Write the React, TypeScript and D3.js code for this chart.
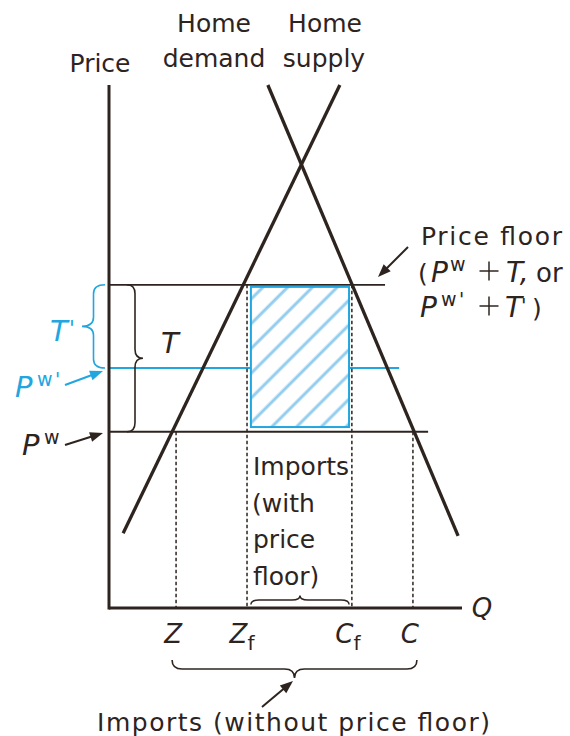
import React from "react";
import * as d3 from "d3";

const W = 570;
const H = 736;

// Quantities on the horizontal axis (data units 0..100)
const quantityNames = ["Z", "Zf", "Cf", "C"];
const quantityValues = [19, 39.1, 68.8, 86.1];
// Price levels (data units 0..100)
const priceNames = ["Pw", "PwPrime", "floor"];
const priceValues = [33.7, 45.9, 61.8];
const priceLineEnds = [90.4, 82.2, 78.2];
// Home supply & demand endpoints [q, p]
const supplyPoints: [number, number][] = [[4, 14.3], [65.4, 100]];
const demandPoints: [number, number][] = [[45, 100], [98.9, 13.8]];
// Imports rectangle (hatched)
const rectQ = [40.2, 68.0];
const rectP = [34.6, 61.4];

const DARK = "#2e241f";
const BLUE = "#22a6df";
const HATCH = "#92cdee";
const FONT = "'DejaVu Sans', sans-serif";

function bracePath(L: number, s: number, r = 8) {
  const m = L / 2;
  return `M0,0 Q0,${-s} ${r},${-s} L${m - r},${-s} Q${m},${-s} ${m},${-2 * s} Q${m},${-s} ${m + r},${-s} L${L - r},${-s} Q${L},${-s} ${L},0`;
}

function Arrow({ x1, y1, x2, y2, color }: { x1: number; y1: number; x2: number; y2: number; color: string }) {
  const a = Math.atan2(y2 - y1, x2 - x1);
  const len = 13, w = 5;
  const bx = x2 - len * Math.cos(a), by = y2 - len * Math.sin(a);
  const px = -Math.sin(a) * w, py = Math.cos(a) * w;
  return (
    <g>
      <line x1={x1} y1={y1} x2={bx + 2 * Math.cos(a)} y2={by + 2 * Math.sin(a)} stroke={color} strokeWidth={2} />
      <polygon points={`${x2},${y2} ${bx + px},${by + py} ${bx - px},${by - py}`} fill={color} />
    </g>
  );
}

function Plus({ cx, cy, r, color }: { cx: number; cy: number; r: number; color: string }) {
  return (
    <g stroke={color} strokeWidth={1.5}>
      <line x1={cx - r} x2={cx + r} y1={cy} y2={cy} />
      <line x1={cx} x2={cx} y1={cy - r} y2={cy + r} />
    </g>
  );
}

export default function App() {
  const x = d3.scaleLinear().domain([0, 100]).range([109, 462]);
  const y = d3.scaleLinear().domain([0, 100]).range([608, 85]);
  const line = d3.line<[number, number]>().x((d) => x(d[0])).y((d) => y(d[1]));

  const [qZ, qZf, qCf, qC] = quantityValues;
  const [pW, pWp, pFloor] = priceValues;

  return (
    <svg width={W} height={H} style={{ position: "absolute", left: 0, top: 0, background: "#fff" }} fontFamily={FONT}>
      <defs>
        <pattern id="hatch" patternUnits="userSpaceOnUse" width={17.5} height={17.5} patternTransform="rotate(45)">
          <line x1={4} y1={0} x2={4} y2={17.5} stroke={HATCH} strokeWidth={3} />
        </pattern>
      </defs>
      <rect width={W} height={H} fill="#fff" />

      {/* Price level lines */}
      {priceNames.map((n, i) => (
        <line key={n} x1={x(0)} x2={x(priceLineEnds[i])} y1={y(priceValues[i])} y2={y(priceValues[i])}
          stroke={n === "PwPrime" ? BLUE : DARK} strokeWidth={n === "PwPrime" ? 2 : 1.8} />
      ))}

      {/* Hatched imports rectangle */}
      <rect x={x(rectQ[0])} y={y(rectP[1])} width={x(rectQ[1]) - x(rectQ[0])} height={y(rectP[0]) - y(rectP[1])}
        fill="#fff" />
      <rect x={x(rectQ[0])} y={y(rectP[1])} width={x(rectQ[1]) - x(rectQ[0])} height={y(rectP[0]) - y(rectP[1])}
        fill="url(#hatch)" stroke={BLUE} strokeWidth={2} />

      {/* Dashed verticals */}
      {quantityNames.map((n, i) => {
        const top = n === "Zf" || n === "Cf" ? pFloor : pW;
        return (
          <line key={n} x1={x(quantityValues[i])} x2={x(quantityValues[i])} y1={y(top)} y2={y(0)}
            stroke={DARK} strokeWidth={1.5} strokeDasharray="3.5,2.5" />
        );
      })}

      {/* Supply & demand */}
      <path d={line(supplyPoints) || ""} stroke={DARK} strokeWidth={3.3} fill="none" />
      <path d={line(demandPoints) || ""} stroke={DARK} strokeWidth={3.3} fill="none" />

      {/* Axes */}
      <line x1={x(0)} x2={x(0)} y1={y(100)} y2={y(0) + 1.5} stroke={DARK} strokeWidth={3} />
      <line x1={x(0)} x2={x(100)} y1={y(0)} y2={y(0)} stroke={DARK} strokeWidth={3} />

      {/* Axis labels */}
      <text x={100} y={72} fontSize={25} fill={DARK} textAnchor="middle">Price</text>
      <text x={482} y={617} fontSize={26} fill={DARK} textAnchor="middle" fontStyle="italic">Q</text>
      <text x={214} y={32} fontSize={25} fill={DARK} textAnchor="middle">Home</text>
      <text x={214} y={67} fontSize={25} fill={DARK} textAnchor="middle">demand</text>
      <text x={325} y={32} fontSize={25} fill={DARK} textAnchor="middle">Home</text>
      <text x={324} y={67} fontSize={25} fill={DARK} textAnchor="middle">supply</text>

      {/* Quantity labels */}
      <g fontSize={26} fill={DARK} fontStyle="italic" textAnchor="middle">
        <text x={x(qZ) - 3} y={643}>Z</text>
        <text x={x(qZf) - 5} y={643}>Z<tspan fontStyle="normal" fontSize={20} dy={7}>f</tspan></text>
        <text x={x(qCf) - 4} y={643}>C<tspan fontStyle="normal" fontSize={20} dy={7}>f</tspan></text>
        <text x={x(qC) - 3} y={643}>C</text>
      </g>

      {/* Bottom brace */}
      <path d={bracePath(x(qC) + 4 - (x(qZ) - 4), 9, 10)} transform={`translate(${x(qZ) - 4},660) scale(1,-1)`}
        stroke={DARK} strokeWidth={1.6} fill="none" />
      <Arrow x1={262} y1={707} x2={293} y2={681} color={DARK} />
      <text x={97} y={731} fontSize={25} fill={DARK} textLength={393} lengthAdjust="spacing">Imports (without price floor)</text>

      {/* Small brace above axis */}
      <path d={bracePath(x(rectQ[1]) - x(rectQ[0]), 4.5, 8)} transform={`translate(${x(rectQ[0])},604.5)`}
        stroke={DARK} strokeWidth={1.5} fill="none" />
      <g fontSize={25} fill={DARK}>
        <text x={253} y={475}>Imports</text>
        <text x={252} y={512}>(with</text>
        <text x={253} y={548}>price</text>
        <text x={253} y={585}>floor)</text>
      </g>

      {/* Price floor label */}
      <g fontSize={25} fill={DARK}>
        <text x={421} y={245} textLength={141} lengthAdjust="spacing">Price floor</text>
        <text x={418} y={282}>(</text>
        <text x={431} y={282} fontStyle="italic" fontSize={28}>P</text>
        <text x={450} y={271} fontSize={19}>w</text>
        <text x={506} y={282} fontStyle="italic" fontSize={28}>T,</text>
        <text x={536} y={282} fontSize={26}>or</text>
        <text x={420} y={317} fontStyle="italic" fontSize={28}>P</text>
        <text x={441} y={306} fontSize={19}>w</text>
        <text x={459} y={306} fontSize={19} fontStyle="italic">'</text>
        <text x={505} y={317} fontStyle="italic" fontSize={28}>T</text>
        <text x={521} y={312} fontStyle="italic" fontSize={20}>'</text>
        <text x={532} y={317}>)</text>
      </g>
      <Plus cx={489} cy={271} r={9.5} color={DARK} />
      <Plus cx={489} cy={306} r={9.5} color={DARK} />
      <Arrow x1={408} y1={247} x2={378} y2={277} color={DARK} />

      {/* Left braces and labels */}
      <path d={bracePath(y(pWp) - y(pFloor), 11.5, 9)} transform={`matrix(0,1,1,0,105,${y(pFloor)})`}
        stroke={BLUE} strokeWidth={1.6} fill="none" />
      <path d={bracePath(y(pW) - y(pFloor), 8, 9)} transform={`translate(127,${y(pFloor)}) rotate(90)`}
        stroke={DARK} strokeWidth={1.6} fill="none" />
      <text x={50} y={341} fontSize={29} fill={BLUE} fontStyle="italic">T</text>
      <text x={69} y={336} fontSize={21} fill={BLUE} fontStyle="italic">'</text>
      <text x={161} y={353} fontSize={29} fill={DARK} fontStyle="italic">T</text>
      <text x={15} y={397} fontSize={29} fill={BLUE} fontStyle="italic">P</text>
      <text x={37} y={386} fontSize={19} fill={BLUE}>w</text>
      <text x={55} y={386} fontSize={19} fill={BLUE} fontStyle="italic">'</text>
      <Arrow x1={65} y1={385} x2={103} y2={371} color={BLUE} />
      <text x={22} y={455} fontSize={29} fill={DARK} fontStyle="italic">P</text>
      <text x={44} y={444} fontSize={19} fill={DARK}>w</text>
      <Arrow x1={65} y1={445} x2={103} y2={433} color={DARK} />
    </svg>
  );
}
